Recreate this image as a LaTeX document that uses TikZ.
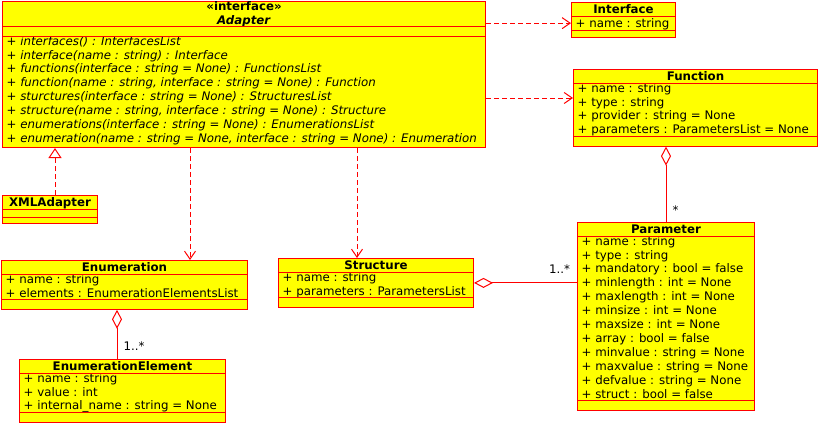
\documentclass[tikz,border=0pt]{standalone}
\usepackage{fontspec}
\setmainfont{DejaVu Sans}
\usepackage{tikz}
\usetikzlibrary{arrows.meta,positioning}

\definecolor{umlred}{RGB}{255,0,0}
\definecolor{umlyellow}{RGB}{255,255,0}
\newcommand{\umlfont}{\fontsize{11.8}{13.9}\selectfont}
\newcommand{\rowstrut}{\rule[-2.6pt]{0pt}{13.9pt}}

\tikzset{
    classbox/.style={draw=umlred, fill=umlyellow, line width=1pt, inner sep=0pt, anchor=north west},
    classname/.style={inner sep=0pt, anchor=north, align=center, font=\umlfont\bfseries,
        execute at begin node=\rowstrut, execute at end node=\rowstrut},
    members/.style={inner sep=0pt, anchor=north west, align=left, font=\umlfont,
        execute at begin node=\rowstrut, execute at end node=\rowstrut},
    sep/.style={draw=umlred, line width=1pt},
    dep/.style={draw=umlred, line width=1pt, dash pattern=on 5pt off 3pt,
        -{Straight Barb[length=8pt,width=11pt]}},
    realize/.style={draw=umlred, line width=1pt, dash pattern=on 5pt off 3pt,
        -{Triangle[open,length=10pt,width=13pt]}},
    aggr/.style={draw=umlred, line width=1pt, {Diamond[open,length=19pt,width=10pt]}-},
    mult/.style={inner sep=2pt, font=\umlfont}
}

\begin{document}
\begin{tikzpicture}[x=1pt,y=-1pt]
            \useasboundingbox (0,0) rectangle (820,423);

            \node[classbox, minimum width=483pt, minimum height=146pt] (adapter) at (2,1) {};
            \node[classname] (adapter_name) at (adapter.north) {«interface»\\\textit{Adapter}};
            \node[members, font=\umlfont\itshape] (adapter_ops) at (6.5,36) {+ interfaces() : InterfacesList\\
                + interface(name : string) : Interface\\
                + functions(interface : string = None) : FunctionsList\\
                + function(name : string, interface : string = None) : Function\\
                + sturctures(interface : string = None) : StructuresList\\
                + structure(name : string, interface : string = None) : Structure\\
                + enumerations(interface : string = None) : EnumerationsList\\
                + enumeration(name : string = None, interface : string = None) : Enumeration};
            \draw[sep] (adapter.west |- adapter_name.south) -- (adapter.east |- adapter_name.south);
            \draw[sep] (adapter.west |- adapter_ops.north) -- (adapter.east |- adapter_ops.north);

            \node[classbox, minimum width=104pt, minimum height=35pt] (iface) at (571,2) {};
            \node[classname] (iface_name) at (iface.north) {Interface};
            \node[members] (iface_attrs) at (575.5,16) {+ name : string};
            \draw[sep] (iface.west |- iface_attrs.north) -- (iface.east |- iface_attrs.north);
            \draw[sep] (iface.west |- iface_attrs.south) -- (iface.east |- iface_attrs.south);

            \node[classbox, minimum width=244pt, minimum height=76.6pt] (func) at (573,69) {};
            \node[classname] (func_name) at (func.north) {Function};
            \node[members] (func_attrs) at (577.5,83) {+ name : string\\
                + type : string\\
                + provider : string = None\\
                + parameters : ParametersList = None};
            \draw[sep] (func.west |- func_attrs.north) -- (func.east |- func_attrs.north);
            \draw[sep] (func.west |- func_attrs.south) -- (func.east |- func_attrs.south);

            \node[classbox, minimum width=95pt, minimum height=28pt] (xmla) at (2,195) {};
            \node[classname] (xmla_name) at (xmla.north) {XMLAdapter};
            \draw[sep] (xmla.west |- xmla_name.south) -- (xmla.east |- xmla_name.south);
            \draw[sep] ([yshift=7pt]xmla.south west) -- ([yshift=7pt]xmla.south east);

            \node[classbox, minimum width=246pt, minimum height=48.8pt] (enum) at (1,260) {};
            \node[classname] (enum_name) at (enum.north) {Enumeration};
            \node[members] (enum_attrs) at (5.5,274) {+ name : string\\
                + elements : EnumerationElementsList};
            \draw[sep] (enum.west |- enum_attrs.north) -- (enum.east |- enum_attrs.north);
            \draw[sep] (enum.west |- enum_attrs.south) -- (enum.east |- enum_attrs.south);

            \node[classbox, minimum width=195pt, minimum height=48.8pt] (struct) at (278,258) {};
            \node[classname] (struct_name) at (struct.north) {Structure};
            \node[members] (struct_attrs) at (282.5,272) {+ name : string\\
                + parameters : ParametersList};
            \draw[sep] (struct.west |- struct_attrs.north) -- (struct.east |- struct_attrs.north);
            \draw[sep] (struct.west |- struct_attrs.south) -- (struct.east |- struct_attrs.south);

            \node[classbox, minimum width=206pt, minimum height=62.7pt] (elem) at (19,359) {};
            \node[classname] (elem_name) at (elem.north) {EnumerationElement};
            \node[members] (elem_attrs) at (23.5,373) {+ name : string\\
                + value : int\\
                + internal\_name : string = None};
            \draw[sep] (elem.west |- elem_attrs.north) -- (elem.east |- elem_attrs.north);
            \draw[sep] (elem.west |- elem_attrs.south) -- (elem.east |- elem_attrs.south);

            \node[classbox, minimum width=177pt, minimum height=187.8pt] (param) at (577,222) {};
            \node[classname] (param_name) at (param.north) {Parameter};
            \node[members] (param_attrs) at (581.5,236) {+ name : string\\
                + type : string\\
                + mandatory : bool = false\\
                + minlength : int = None\\
                + maxlength : int = None\\
                + minsize : int = None\\
                + maxsize : int = None\\
                + array : bool = false\\
                + minvalue : string = None\\
                + maxvalue : string = None\\
                + defvalue : string = None\\
                + struct : bool = false};
            \draw[sep] (param.west |- param_attrs.north) -- (param.east |- param_attrs.north);
            \draw[sep] (param.west |- param_attrs.south) -- (param.east |- param_attrs.south);

            \coordinate (func_dep) at (0,98);
            \coordinate (enum_dep) at (190,0);
            \coordinate (struct_dep) at (357,0);
            \coordinate (xmla_real) at (55,0);
            \coordinate (enum_aggr) at (117,0);

            \draw[dep] (adapter.east |- iface_attrs) -- (iface.west |- iface_attrs);
            \draw[dep] (adapter.east |- func_dep) -- (func.west |- func_dep);
            \draw[dep] (adapter.south -| enum_dep) -- (enum.north -| enum_dep);
            \draw[dep] (adapter.south -| struct_dep) -- (struct.north -| struct_dep);
            \draw[realize] (xmla.north -| xmla_real) -- (adapter.south -| xmla_real);

            \draw[aggr] (enum.south -| enum_aggr) -- (elem.north -| enum_aggr) node[mult, pos=0.73, right=4pt] {1..*};
            \draw[aggr] (func.south -| param.north) -- (param.north) node[mult, pos=0.84, right=4pt] {*};
            \draw[aggr] (struct.east) -- (param.west |- struct.east) node[mult, pos=0.83, above=7pt] {1..*};
        \end{tikzpicture}
\end{document}
